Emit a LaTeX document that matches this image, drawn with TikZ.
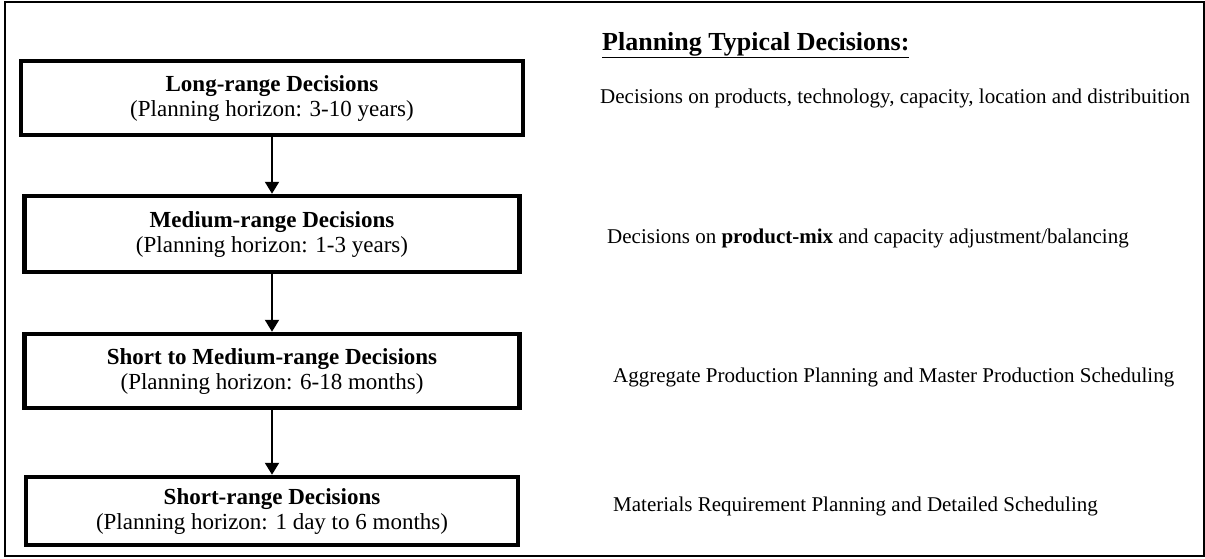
\documentclass[tikz,border=0pt]{standalone}
\usepackage{fontspec}
\setmainfont{Liberation Serif}
\usetikzlibrary{positioning,arrows.meta}

\begin{document}
\begin{tikzpicture}[x=1pt,y=-1pt,
        decision/.style={draw, line width=4.5pt, align=center, inner sep=0pt,
            font=\fontsize{23}{25}\selectfont},
        typical/.style={anchor=west, inner sep=0pt, font=\fontsize{21}{24}\selectfont},
        flow/.style={line width=2pt, -{Triangle[length=12pt,width=14pt]}}]
        \useasboundingbox (0,0) rectangle (1205,558);
        \draw[line width=2.5pt] (5,2) rectangle (1204,556);

        % planning levels
        \node[decision, minimum width=502pt, minimum height=74pt] (long) at (272,98)
            {\textbf{Long-range Decisions}\\(Planning horizon: 3-10 years)};
        \node[decision, minimum width=495pt, minimum height=76pt] (medium) at (272,234)
            {\textbf{Medium-range Decisions}\\(Planning horizon: 1-3 years)};
        \node[decision, minimum width=495pt, minimum height=74pt] (shortmed) at (272,371)
            {\textbf{Short to Medium-range Decisions}\\(Planning horizon: 6-18 months)};
        \node[decision, minimum width=492pt, minimum height=68pt] (short) at (272,511)
            {\textbf{Short-range Decisions}\\(Planning horizon: 1 day to 6 months)};

        \draw[flow] (long) -- (medium);
        \draw[flow] (medium) -- (shortmed);
        \draw[flow] (shortmed) -- (short);

        % typical decisions
        \node[typical, font=\fontsize{26}{30}\selectfont\bfseries] (heading) at (602,45)
            {\underline{Planning Typical Decisions:}};
        \node[typical] (longtxt) at (600,98)
            {Decisions on products, technology, capacity, location and distribuition};
        \node[typical] (mediumtxt) at (607,238)
            {Decisions on \textbf{product-mix} and capacity adjustment/balancing};
        \node[typical] (shortmedtxt) at (613,377)
            {Aggregate Production Planning and Master Production Scheduling};
        \node[typical] (shorttxt) at (613,506)
            {Materials Requirement Planning and Detailed Scheduling};
    \end{tikzpicture}
\end{document}
